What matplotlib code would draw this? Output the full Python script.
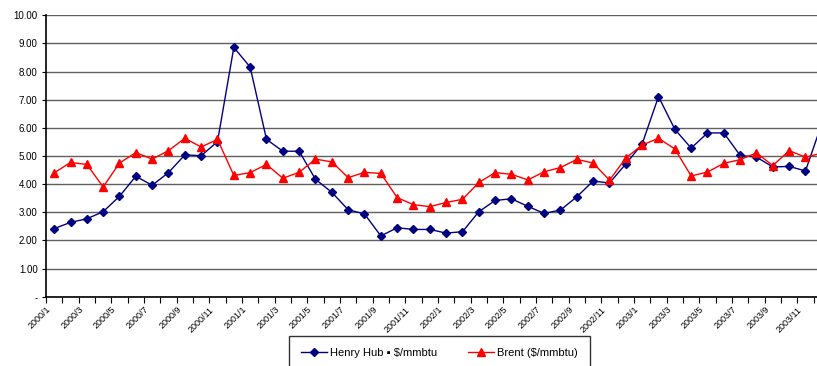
import matplotlib
matplotlib.use('Agg')
import matplotlib.pyplot as plt
import numpy as np

plt.rcParams['font.family'] = ['Liberation Sans', 'DejaVu Sans']

# monthly prices, 2000/1 .. 2003/12
months = [f'{y}/{m}' for y in range(2000, 2004) for m in range(1, 13)]
henry_hub = [2.42, 2.64, 2.77, 3.02, 3.57, 4.28, 3.96, 4.41, 5.04, 5.01, 5.51, 8.86,
             8.16, 5.59, 5.17, 5.17, 4.17, 3.71, 3.09, 2.94, 2.16, 2.45, 2.39, 2.39,
             2.26, 2.31, 3.02, 3.42, 3.48, 3.21, 2.96, 3.08, 3.55, 4.11, 4.04, 4.72,
             5.43, 7.11, 5.95, 5.28, 5.82, 5.82, 5.02, 4.96, 4.61, 4.63, 4.47, 6.15]
brent = [4.40, 4.77, 4.70, 3.90, 4.75, 5.12, 4.89, 5.19, 5.63, 5.32, 5.59, 4.31,
         4.41, 4.70, 4.21, 4.42, 4.89, 4.79, 4.23, 4.42, 4.38, 3.52, 3.27, 3.20,
         3.35, 3.46, 4.06, 4.41, 4.35, 4.15, 4.44, 4.59, 4.88, 4.75, 4.14, 4.93,
         5.39, 5.63, 5.25, 4.29, 4.43, 4.74, 4.87, 5.11, 4.66, 5.19, 4.96, 5.10]
y_ticks = np.arange(0, 11, 1)

fig = plt.figure(figsize=(8.17, 3.66), dpi=100)
ax = fig.add_axes([46 / 817, 69.3 / 366, 784 / 817, 281.4 / 366])

x = np.arange(len(months))
ax.plot(x, henry_hub, color='#000080', marker='D', markersize=4, linewidth=1,
        label='Henry Hub \u25aa $/mmbtu', clip_on=False, zorder=3)
ax.plot(x, brent, color='#ff0000', marker='^', markersize=6, linewidth=1,
        label='Brent ($/mmbtu)', clip_on=False, zorder=3)

ax.set_ylim(0, 10)
ax.set_xlim(-0.5, len(months) - 0.5)
ax.set_yticks(y_ticks)
ax.set_yticklabels(['-'] + [f'{v:.2f}' for v in y_ticks[1:]], fontsize=7)
ax.grid(axis='y', color='#606060', linewidth=1)
ax.set_axisbelow(True)

bounds = np.arange(len(months) + 1) - 0.5
ax.set_xticks(bounds)
ax.set_xticklabels([months[i] if (i < len(months) and i % 2 == 0) else ''
                    for i in range(len(bounds))],
                   rotation=45, ha='right', rotation_mode='anchor', fontsize=6.5)
ax.tick_params(axis='x', length=4, width=0.8, pad=2)
ax.tick_params(axis='y', length=3, width=0.8, pad=3)

for s in ['top', 'right']:
    ax.spines[s].set_visible(False)
ax.spines['left'].set_linewidth(1.2)
ax.spines['bottom'].set_linewidth(1.2)

leg = fig.legend(loc='upper left', bbox_to_anchor=(289 / 817, 30.3 / 366),
                 bbox_transform=fig.transFigure, ncol=2, fontsize=8,
                 frameon=True, fancybox=False, edgecolor='black',
                 handlelength=2.3, handletextpad=0.3, columnspacing=2.8,
                 borderpad=1.1, borderaxespad=0)
leg.get_frame().set_linewidth(1)

fig.savefig('out.png', dpi=100, facecolor='white')
